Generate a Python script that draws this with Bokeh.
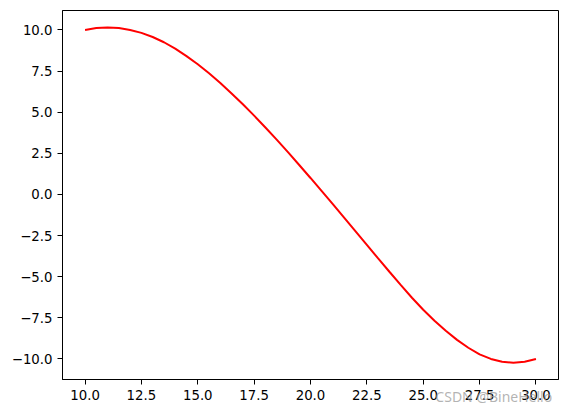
from bokeh.plotting import figure
from bokeh.models import Range1d, FixedTicker, LinearAxis
from bokeh.embed import file_html
from bokeh.resources import INLINE

# curve values
x_vals = [10.0, 10.5, 11.0, 11.5, 12.0, 12.5, 13.0, 13.5, 14.0, 14.5, 15.0, 15.5,
          16.0, 16.5, 17.0, 17.5, 18.0, 18.5, 19.0, 19.5, 20.0, 20.5, 21.0, 21.5,
          22.0, 22.5, 23.0, 23.5, 24.0, 24.5, 25.0, 25.5, 26.0, 26.5, 27.0, 27.5,
          28.0, 28.5, 29.0, 29.5, 30.0]
y_vals = [10.00, 10.11, 10.15, 10.11, 10.00, 9.82, 9.57, 9.25, 8.86, 8.41, 7.91, 7.36,
          6.77, 6.14, 5.48, 4.79, 4.07, 3.33, 2.57, 1.79, 1.00, 0.20, -0.61, -1.43,
          -2.25, -3.07, -3.89, -4.70, -5.50, -6.28, -7.01, -7.68, -8.29, -8.84, -9.32, -9.72,
          -10.00, -10.17, -10.23, -10.17, -10.00]

x_ticks = [10.0, 12.5, 15.0, 17.5, 20.0, 22.5, 25.0, 27.5, 30.0]
x_tick_labels = ["10.0", "12.5", "15.0", "17.5", "20.0", "22.5", "25.0", "27.5", "30.0"]
y_ticks = [-10.0, -7.5, -5.0, -2.5, 0.0, 2.5, 5.0, 7.5, 10.0]
y_tick_labels = ["\u221210.0", "\u22127.5", "\u22125.0", "\u22122.5", "0.0", "2.5", "5.0", "7.5", "10.0"]

watermark = "CSDN @BineHello"

FONT = "DejaVu Sans"
WM_CENTER_X = 28.13   # layout: horizontal centre of the watermark, in axis units

p = figure(width=568, height=413, output_backend="svg", toolbar_location=None,
           x_range=Range1d(9, 31), y_range=Range1d(-11.25, 11.18),
           min_border_left=62, min_border_right=10, min_border_top=10, min_border_bottom=34)

p.line(x_vals, y_vals, line_color="red", line_width=2)

p.grid.visible = False
p.outline_line_color = "black"
p.outline_line_width = 1
p.background_fill_color = "white"
p.border_fill_color = "white"

for ax, ticks, labels in ((p.xaxis[0], x_ticks, x_tick_labels), (p.yaxis[0], y_ticks, y_tick_labels)):
    ax.ticker = FixedTicker(ticks=ticks)
    ax.major_label_overrides = {t: l for t, l in zip(ticks, labels)}
    ax.minor_tick_line_color = None
    ax.major_tick_in = 0
    ax.major_tick_out = 5
    ax.major_tick_line_color = "black"
    ax.axis_line_color = "black"
    ax.major_label_text_font = FONT
    ax.major_label_text_font_size = "13.3px"
    ax.major_label_text_color = "black"
    ax.major_label_standoff = 5

# watermark: a bare extra axis whose single label is pulled up over the tick labels
wm_axis = LinearAxis(ticker=FixedTicker(ticks=[WM_CENTER_X]),
                     major_label_overrides={WM_CENTER_X: watermark},
                     axis_line_color=None, major_tick_line_color=None,
                     minor_tick_line_color=None,
                     major_tick_in=0, major_tick_out=0,
                     major_label_standoff=-16,
                     major_label_text_font="Noto Sans",
                     major_label_text_font_size="14px",
                     major_label_text_color="#9a9a9a",
                     major_label_text_alpha=0.75)
p.add_layout(wm_axis, "below")

open("out.html", "w").write(file_html(p, INLINE))
